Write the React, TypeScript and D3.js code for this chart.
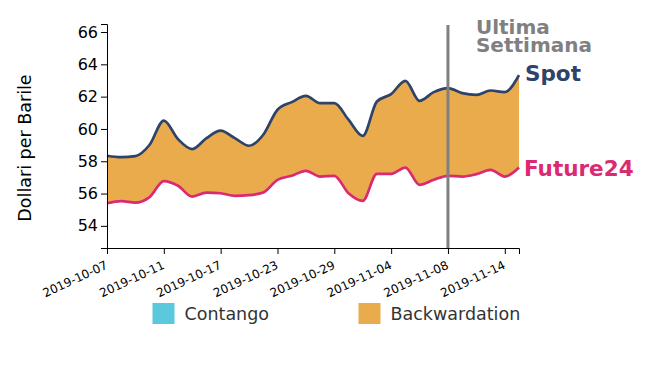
import React, { useEffect, useRef } from "react";
import * as d3 from "d3";

const dates = [
  "2019-10-07", "2019-10-08", "2019-10-09", "2019-10-10", "2019-10-11",
  "2019-10-14", "2019-10-15", "2019-10-16", "2019-10-17", "2019-10-18",
  "2019-10-21", "2019-10-22", "2019-10-23", "2019-10-24", "2019-10-25",
  "2019-10-28", "2019-10-29", "2019-10-30", "2019-10-31", "2019-11-01",
  "2019-11-04", "2019-11-05", "2019-11-06", "2019-11-07", "2019-11-08",
  "2019-11-11", "2019-11-12", "2019-11-13", "2019-11-14", "2019-11-15",
];

const spot = [
  58.34, 58.25, 58.32, 59.02, 60.52, 59.37, 58.75, 59.43, 59.9, 59.43,
  58.96, 59.64, 61.19, 61.66, 62.05, 61.6, 61.6, 60.57, 59.57, 61.7,
  62.16, 62.98, 61.74, 62.28, 62.53, 62.22, 62.11, 62.38, 62.28, 63.33,
];

const future24 = [
  55.4, 55.53, 55.44, 55.78, 56.77, 56.48, 55.81, 56.06, 56.02, 55.86,
  55.9, 56.06, 56.85, 57.1, 57.41, 57.05, 57.1, 56.02, 55.55, 57.22,
  57.22, 57.61, 56.54, 56.85, 57.1, 57.05, 57.2, 57.47, 57.05, 57.61,
];

const lastWeek = "2019-11-08";
const noteLines = ["Ultima", "Settimana"];
const legendLabels = ["Contango", "Backwardation"];

const W = 661;
const H = 368;
const margin = { top: 24, right: 142, bottom: 120, left: 107 };
const FONT = "DejaVu Sans, sans-serif";

const C_SPOT = "#2e4369";
const C_FUT = "#db2a72";
const C_BACK = "#eaab4d";
const C_CONT = "#5bc8dd";

export default function App() {
  const xAxisRef = useRef<SVGGElement>(null);
  const yAxisRef = useRef<SVGGElement>(null);

  const innerW = W - margin.left - margin.right;
  const innerH = H - margin.top - margin.bottom;

  const x = d3.scalePoint<string>().domain(dates).range([margin.left, margin.left + innerW]);
  const y = d3
    .scaleLinear()
    .domain([d3.min(future24)! * 0.95, d3.max(spot)! * 1.05])
    .range([margin.top + innerH, margin.top]);

  const rows = dates.map((d, i) => ({ d, s: spot[i], f: future24[i] }));

  // orange where spot > future (backwardation), cyan otherwise
  const backArea = d3
    .area<any>()
    .curve(d3.curveMonotoneX)
    .x((r) => x(r.d)!)
    .y0((r) => y(r.f))
    .y1((r) => y(Math.max(r.s, r.f)));
  const contArea = d3
    .area<any>()
    .curve(d3.curveMonotoneX)
    .x((r) => x(r.d)!)
    .y0((r) => y(r.s))
    .y1((r) => y(Math.max(r.s, r.f)));
  const spotLine = d3.line<any>().curve(d3.curveMonotoneX).x((r) => x(r.d)!).y((r) => y(r.s));
  const futLine = d3.line<any>().curve(d3.curveMonotoneX).x((r) => x(r.d)!).y((r) => y(r.f));

  useEffect(() => {
    const xa = d3.select(xAxisRef.current!);
    xa.call(d3.axisBottom(x).tickValues(dates.filter((_, i) => i % 4 === 0)));
    xa.selectAll("text")
      .attr("font-size", 12)
      .attr("font-family", FONT)
      .attr("fill", "#000")
      .style("text-anchor", "end")
      .attr("y", 0)
      .attr("dy", 0)
      .attr("transform", "translate(1,20) rotate(-25)");

    const ya = d3.select(yAxisRef.current!);
    ya.call(d3.axisLeft(y).ticks(6));
    ya.selectAll("text").attr("font-size", 16).attr("font-family", FONT).attr("fill", "#000");
  }, []);

  const last = rows[rows.length - 1];
  const xl = x(lastWeek)!;

  return (
    <svg width={W} height={H} style={{ position: "absolute", left: 0, top: 0 }}>
      <path d={contArea(rows)!} fill={C_CONT} />
      <path d={backArea(rows)!} fill={C_BACK} />
      <path d={spotLine(rows)!} fill="none" stroke={C_SPOT} strokeWidth={2.7} />
      <path d={futLine(rows)!} fill="none" stroke={C_FUT} strokeWidth={2.7} />

      <g ref={xAxisRef} transform={`translate(0,${margin.top + innerH})`} />
      <g ref={yAxisRef} transform={`translate(${margin.left},0)`} />

      <line x1={xl} x2={xl} y1={margin.top + 1} y2={margin.top + innerH} stroke="#808080" strokeWidth={3} />
      {noteLines.map((t, i) => (
        <text key={t} x={xl + 28} y={34 + i * 18} fontFamily={FONT} fontWeight="bold" fontSize={20} fill="#808080">
          {t}
        </text>
      ))}

      <text x={x(last.d)! + 6} y={y(last.s) + 6} fontFamily={FONT} fontWeight="bold" fontSize={21.5} fill={C_SPOT}>
        Spot
      </text>
      <text x={x(last.d)! + 5} y={y(last.f) + 8} fontFamily={FONT} fontWeight="bold" fontSize={21.5} fill={C_FUT}>
        Future24
      </text>

      <text
        transform={`translate(31,${margin.top + innerH / 2 + 12}) rotate(-90)`}
        textAnchor="middle"
        fontFamily={FONT}
        fontSize={17.5}
        fill="#000"
      >
        Dollari per Barile
      </text>

      {legendLabels.map((l, i) => (
        <g key={l} transform={`translate(${152.5 + i * 206},303)`}>
          <rect width={22} height={21} fill={i === 0 ? C_CONT : C_BACK} />
          <text x={32} y={17} fontFamily={FONT} fontSize={17.5} fill="#333">
            {l}
          </text>
        </g>
      ))}
    </svg>
  );
}
